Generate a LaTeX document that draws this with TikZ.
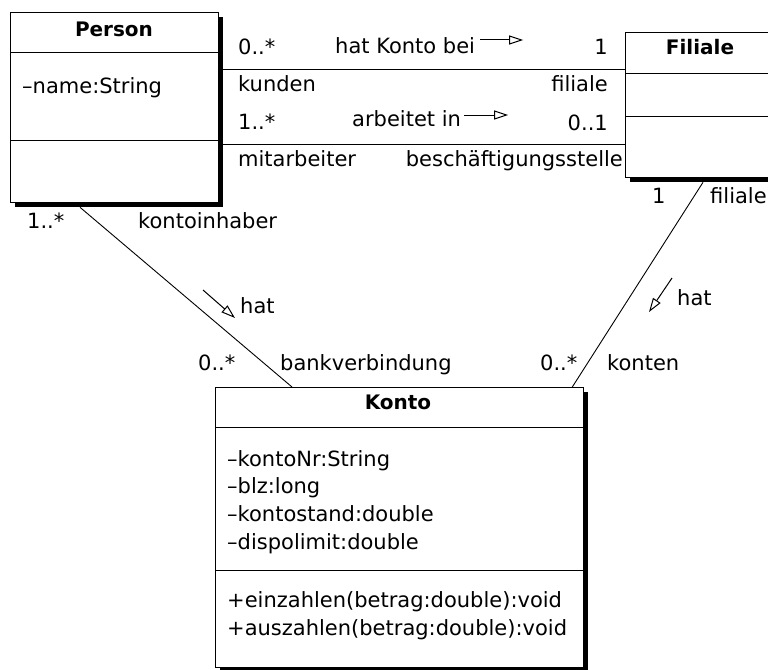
\documentclass[tikz,border=0pt]{standalone}
\usepackage{fontspec}
\setmainfont{DejaVu Sans}
\usetikzlibrary{arrows.meta,calc,shadows}

\begin{document}
\begin{tikzpicture}[x=1pt, y=-1pt,
    font=\fontsize{21}{27}\selectfont,
    classbox/.style ={draw, fill=white, line width=1.3pt, anchor=north west, inner sep=0pt,
      drop shadow={shadow xshift=4pt, shadow yshift=-4pt, fill=black, opacity=1}},
    classname/.style ={font=\fontsize{20}{24}\selectfont\bfseries, anchor=base, inner sep=0pt},
    member/.style ={anchor=base west, inner sep=0pt},
    rolelabel/.style ={anchor=base west, inner sep=0pt},
    rolelabelr/.style ={anchor=base east, inner sep=0pt},
    separator/.style ={line width=1pt},
    association/.style ={line width=0.9pt},
    readdir/.style ={line width=1pt, -{Triangle[open, length=14pt, width=9pt]}}]
   \clip (0,0) rectangle (768,669);

   \node[classbox, minimum width=208pt, minimum height=190pt] (person)  at (10,12)  {};
   \node[classbox, minimum width=200pt, minimum height=145pt] (filiale) at (625,32) {};
   \node[classbox, minimum width=368pt, minimum height=280pt] (konto)   at (215,387) {};

   \draw[separator] (person.west |- 0,53) -- (person.east |- 0,53);
   \draw[separator] (person.west |- 0,140) -- (person.east |- 0,140);
   \draw[separator] (filiale.west |- 0,73) -- (filiale.east |- 0,73);
   \draw[separator] (filiale.west |- 0,116) -- (filiale.east |- 0,116);
   \draw[separator] (konto.west |- 0,427) -- (konto.east |- 0,427);
   \draw[separator] (konto.west |- 0,570) -- (konto.east |- 0,570);

   \node[classname] (persontitle)  at (114,37)  {Person};
   \node[classname] (filialetitle) at (700,55)  {Filiale};
   \node[classname] (kontotitle)   at (398,409) {Konto};

   \node[member] (pname)  at (22,93)   {–name:String};
   \node[member] (knr)    at (227,466) {–kontoNr:String};
   \node[member] (kblz)   at (227,493) {–blz:long};
   \node[member] (kstand) at (227,521) {–kontostand:double};
   \node[member] (kdispo) at (227,549) {–dispolimit:double};
   \node[member] (kein)   at (227,607) {+einzahlen(betrag:double):void};
   \node[member] (kaus)   at (227,635) {+auszahlen(betrag:double):void};

   \draw[association] ($(person.north east)+(4,57)$) -- ($(filiale.north west)+(0,37)$);
   \draw[association] ($(person.north east)+(4,132)$) -- ($(filiale.north west)+(0,112)$);
   \draw[association] ($(person.south west)+(70,4)$) -- ($(konto.north west)+(77,0)$);
   \draw[association] ($(filiale.south west)+(78,4)$) -- ($(konto.north east)+(-12,0)$);

   \node[rolelabel]  (kundenmult)  at (238,55)  {0..*};
   \node[rolelabel]  (hatkonto)    at (335,53)  {hat Konto bei};
   \node[rolelabelr] (filialemult) at (608,55)  {1};
   \node[rolelabel]  (kunden)      at (238,91)  {kunden};
   \node[rolelabelr] (filialerole) at (608,91)  {filiale};
   \node[rolelabel]  (mitarbmult)  at (238,129) {1..*};
   \node[rolelabel]  (arbeitet)    at (352,126) {arbeitet in};
   \node[rolelabelr] (stellemult)  at (608,130) {0..1};
   \node[rolelabel]  (mitarb)      at (238,166) {mitarbeiter};
   \node[rolelabelr] (stelle)      at (623,166) {beschäftigungsstelle};
   \node[rolelabel]  (inhabermult) at (27,228)  {1..*};
   \node[rolelabel]  (inhaber)     at (138,228) {kontoinhaber};
   \node[rolelabel]  (hatinh)      at (240,313) {hat};
   \node[rolelabel]  (bankmult)    at (198,370) {0..*};
   \node[rolelabel]  (bank)        at (280,370) {bankverbindung};
   \node[rolelabel]  (filmult)     at (652,203) {1};
   \node[rolelabel]  (filrole)     at (710,203) {filiale};
   \node[rolelabel]  (hatfil)      at (677,305) {hat};
   \node[rolelabel]  (kontenmult)  at (540,370) {0..*};
   \node[rolelabel]  (konten)      at (607,370) {konten};

   \draw[readdir] ($(hatkonto.base east)+(5,-13)$) -- ++(43,0);
   \draw[readdir] ($(arbeitet.base east)+(3,-11)$) -- ++(44,0);
   \draw[readdir] ($(hatinh.base west)+(-37,-23)$) -- ++(32,28);
   \draw[readdir] ($(hatfil.base west)+(-5,-27)$) -- ++(-23,34);
\end{tikzpicture}
\end{document}
